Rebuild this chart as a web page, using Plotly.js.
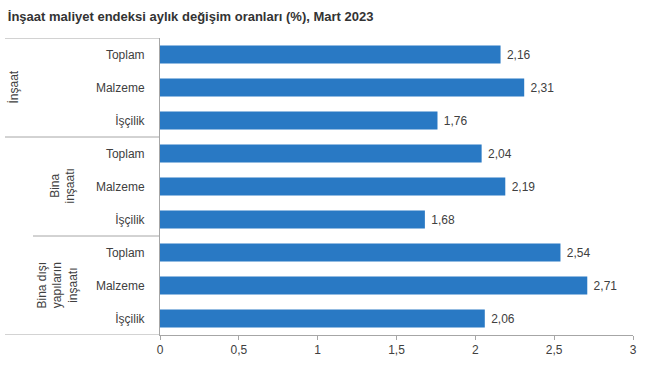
<!DOCTYPE html>
<html><head><meta charset="utf-8">
<script src="https://cdn.plot.ly/plotly-3.0.1.min.js"></script>
<style>html,body{margin:0;padding:0;background:#fff;}</style>
</head><body>
<div id="chart" style="width:652px;height:373px;"></div>
<script>
const groups = ["İnşaat", "Bina<br>inşaatı", "Bina dışı<br>yapıların<br>inşaatı"];
const items = ["Toplam", "Malzeme", "İşçilik"];
const values = [2.16, 2.31, 1.76, 2.04, 2.19, 1.68, 2.54, 2.71, 2.06];
const xTickVals = [0, 0.5, 1, 1.5, 2, 2.5, 3];
const xTickText = ["0", "0,5", "1", "1,5", "2", "2,5", "3"];
const title = "İnşaat maliyet endeksi aylık değişim oranları (%), Mart 2023";

const pos = values.map((v, i) => i);
const labels = pos.map(i => items[i % items.length]);
const texts = values.map(v => "\u00a0" + v.toFixed(2).replace('.', ','));

const FONT = "Liberation Sans, Arial, sans-serif";
const trace = {
  type: "bar", orientation: "h",
  x: values, y: pos,
  marker: {color: "#2979c4"},
  width: 0.55,
  text: texts, textposition: "outside", cliponaxis: false,
  textfont: {family: FONT, size: 12, color: "#404040"},
  hoverinfo: "skip"
};

const shapes = [];
const annotations = [];
const lineStarts = [5, 5, 33, 5];
for (let g = 0; g <= groups.length; g++) {
  const yb = g * 3 - 0.5;
  shapes.push({type: "line", xref: "paper", yref: "y", x0: 0, x1: 0, y0: yb, y1: yb,
    line: {color: "#a6a6a6", width: 1}});
}
const groupX = [13, 62, 57];
const groupY = [1, 4, 7];
groups.forEach((g, i) => {
  annotations.push({text: g, xref: "paper", yref: "y", x: 0, y: groupY[i], showarrow: false,
    textangle: -90, xanchor: "center", yanchor: "middle",
    font: {family: FONT, size: 12, color: "#404040"}});
});

const L = 160, W = 652 - 160 - 19;
shapes.forEach((s, i) => { s.x0 = (lineStarts[i] - L) / W; s.x1 = 0; });
annotations.forEach((a, i) => { a.x = (groupX[i] - L) / W; });

const layout = {
  width: 652, height: 373,
  margin: {l: 160, r: 19, t: 38, b: 38, pad: 0},
  paper_bgcolor: "#fff", plot_bgcolor: "#fff",
  showlegend: false,
  title: {text: "<b>" + title + "</b>", x: 0.012, xanchor: "left", y: 0.955, yanchor: "middle",
    font: {family: FONT, size: 13, color: "#333"}},
  xaxis: {range: [0, 3], tickvals: xTickVals, ticktext: xTickText, showgrid: false, zeroline: false,
    showline: true, linecolor: "#a6a6a6", linewidth: 1, ticks: "outside", ticklen: 4, tickcolor: "#a6a6a6",
    tickfont: {family: FONT, size: 12, color: "#404040"}, fixedrange: true},
  yaxis: {range: [8.5, -0.5], tickvals: pos, ticktext: labels, showgrid: false, zeroline: false,
    showline: true, linecolor: "#a6a6a6", linewidth: 1, ticks: "", ticklabelstandoff: 12,
    tickfont: {family: FONT, size: 12, color: "#404040"}, fixedrange: true},
  shapes: shapes, annotations: annotations
};

Plotly.newPlot("chart", [trace], layout, {displayModeBar: false, staticPlot: true});
</script>
</body></html>
